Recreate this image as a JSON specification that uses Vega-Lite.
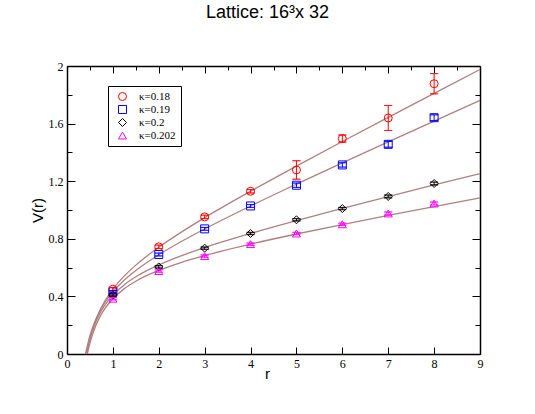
{
  "$schema": "https://vega.github.io/schema/vega-lite/v6.json",
  "width": 413,
  "height": 288,
  "autosize": {"type": "none"},
  "padding": {"left": 67, "top": 66, "right": 55, "bottom": 60},
  "background": "white",
  "title": {"text": "Lattice: 16³x 32", "font": "Liberation Sans", "fontSize": 18, "fontWeight": "normal", "color": "black", "anchor": "middle", "baseline": "alphabetic", "offset": 24, "dx": -6},
  "config": {
    "view": {"stroke": null},
    "axis": {"domainColor": "black", "domainWidth": 1.5, "tickColor": "black", "tickWidth": 1, "labelFont": "Liberation Serif", "labelFontSize": 12, "labelColor": "black", "titleFont": "Liberation Sans", "titleFontSize": 15, "titleFontWeight": "normal", "titleColor": "black", "grid": false, "labelFlush": false, "labelOverlap": false}
  },
  "datasets": {
    "pts": [
      {"k": "κ=0.18", "r": 1, "V": 0.450, "lo": 0.438, "hi": 0.462},
      {"k": "κ=0.18", "r": 2, "V": 0.744, "lo": 0.732, "hi": 0.756},
      {"k": "κ=0.18", "r": 3, "V": 0.952, "lo": 0.940, "hi": 0.964},
      {"k": "κ=0.18", "r": 4, "V": 1.130, "lo": 1.118, "hi": 1.142},
      {"k": "κ=0.18", "r": 5, "V": 1.278, "lo": 1.214, "hi": 1.342},
      {"k": "κ=0.18", "r": 6, "V": 1.496, "lo": 1.471, "hi": 1.521},
      {"k": "κ=0.18", "r": 7, "V": 1.639, "lo": 1.552, "hi": 1.726},
      {"k": "κ=0.18", "r": 8, "V": 1.877, "lo": 1.807, "hi": 1.947},
      {"k": "κ=0.19", "r": 1, "V": 0.432, "lo": 0.424, "hi": 0.440},
      {"k": "κ=0.19", "r": 2, "V": 0.691, "lo": 0.681, "hi": 0.701},
      {"k": "κ=0.19", "r": 3, "V": 0.869, "lo": 0.859, "hi": 0.879},
      {"k": "κ=0.19", "r": 4, "V": 1.028, "lo": 1.018, "hi": 1.038},
      {"k": "κ=0.19", "r": 5, "V": 1.172, "lo": 1.157, "hi": 1.187},
      {"k": "κ=0.19", "r": 6, "V": 1.313, "lo": 1.298, "hi": 1.328},
      {"k": "κ=0.19", "r": 7, "V": 1.456, "lo": 1.436, "hi": 1.476},
      {"k": "κ=0.19", "r": 8, "V": 1.641, "lo": 1.621, "hi": 1.661},
      {"k": "κ=0.2", "r": 1, "V": 0.409, "lo": 0.401, "hi": 0.417},
      {"k": "κ=0.2", "r": 2, "V": 0.605, "lo": 0.597, "hi": 0.613},
      {"k": "κ=0.2", "r": 3, "V": 0.735, "lo": 0.727, "hi": 0.743},
      {"k": "κ=0.2", "r": 4, "V": 0.837, "lo": 0.829, "hi": 0.845},
      {"k": "κ=0.2", "r": 5, "V": 0.932, "lo": 0.924, "hi": 0.940},
      {"k": "κ=0.2", "r": 6, "V": 1.010, "lo": 1.002, "hi": 1.018},
      {"k": "κ=0.2", "r": 7, "V": 1.094, "lo": 1.084, "hi": 1.104},
      {"k": "κ=0.2", "r": 8, "V": 1.184, "lo": 1.174, "hi": 1.194},
      {"k": "κ=0.202", "r": 1, "V": 0.384, "lo": 0.376, "hi": 0.392},
      {"k": "κ=0.202", "r": 2, "V": 0.576, "lo": 0.568, "hi": 0.584},
      {"k": "κ=0.202", "r": 3, "V": 0.680, "lo": 0.672, "hi": 0.688},
      {"k": "κ=0.202", "r": 4, "V": 0.763, "lo": 0.755, "hi": 0.771},
      {"k": "κ=0.202", "r": 5, "V": 0.837, "lo": 0.829, "hi": 0.845},
      {"k": "κ=0.202", "r": 6, "V": 0.901, "lo": 0.893, "hi": 0.909},
      {"k": "κ=0.202", "r": 7, "V": 0.976, "lo": 0.966, "hi": 0.986},
      {"k": "κ=0.202", "r": 8, "V": 1.045, "lo": 1.035, "hi": 1.055}
    ],
    "fit": [
      {"k": "a", "r": 0.4207, "V": 0}, {"k": "a", "r": 0.5, "V": 0.1104}, {"k": "a", "r": 0.6, "V": 0.2128}, {"k": "a", "r": 0.7, "V": 0.2906}, {"k": "a", "r": 0.8, "V": 0.3529}, {"k": "a", "r": 0.9, "V": 0.4051}, {"k": "a", "r": 1, "V": 0.45}, {"k": "a", "r": 1.25, "V": 0.5422}, {"k": "a", "r": 1.5, "V": 0.6172}, {"k": "a", "r": 2, "V": 0.7413}, {"k": "a", "r": 2.5, "V": 0.8482}, {"k": "a", "r": 3, "V": 0.9464}, {"k": "a", "r": 4, "V": 1.1299}, {"k": "a", "r": 5, "V": 1.3049}, {"k": "a", "r": 6, "V": 1.4755}, {"k": "a", "r": 7, "V": 1.6437}, {"k": "a", "r": 8, "V": 1.8103}, {"k": "a", "r": 9, "V": 1.9759},
      {"k": "b", "r": 0.402, "V": 0}, {"k": "b", "r": 0.5, "V": 0.1277}, {"k": "b", "r": 0.6, "V": 0.2198}, {"k": "b", "r": 0.7, "V": 0.2896}, {"k": "b", "r": 0.8, "V": 0.3454}, {"k": "b", "r": 0.9, "V": 0.392}, {"k": "b", "r": 1, "V": 0.432}, {"k": "b", "r": 1.25, "V": 0.5139}, {"k": "b", "r": 1.5, "V": 0.5802}, {"k": "b", "r": 2, "V": 0.6892}, {"k": "b", "r": 2.5, "V": 0.7828}, {"k": "b", "r": 3, "V": 0.8684}, {"k": "b", "r": 4, "V": 1.028}, {"k": "b", "r": 5, "V": 1.1798}, {"k": "b", "r": 6, "V": 1.3278}, {"k": "b", "r": 7, "V": 1.4734}, {"k": "b", "r": 8, "V": 1.6177}, {"k": "b", "r": 9, "V": 1.7611},
      {"k": "c", "r": 0.4228, "V": 0}, {"k": "c", "r": 0.5, "V": 0.1035}, {"k": "c", "r": 0.6, "V": 0.2003}, {"k": "c", "r": 0.7, "V": 0.2716}, {"k": "c", "r": 0.8, "V": 0.3269}, {"k": "c", "r": 0.9, "V": 0.3717}, {"k": "c", "r": 1, "V": 0.409}, {"k": "c", "r": 1.25, "V": 0.4815}, {"k": "c", "r": 1.5, "V": 0.5361}, {"k": "c", "r": 2, "V": 0.6186}, {"k": "c", "r": 2.5, "V": 0.6833}, {"k": "c", "r": 3, "V": 0.739}, {"k": "c", "r": 4, "V": 0.8371}, {"k": "c", "r": 5, "V": 0.9263}, {"k": "c", "r": 6, "V": 1.011}, {"k": "c", "r": 7, "V": 1.0932}, {"k": "c", "r": 8, "V": 1.1737}, {"k": "c", "r": 9, "V": 1.2533},
      {"k": "d", "r": 0.4424, "V": 0}, {"k": "d", "r": 0.5, "V": 0.0762}, {"k": "d", "r": 0.6, "V": 0.175}, {"k": "d", "r": 0.7, "V": 0.2473}, {"k": "d", "r": 0.8, "V": 0.3028}, {"k": "d", "r": 0.9, "V": 0.3473}, {"k": "d", "r": 1, "V": 0.384}, {"k": "d", "r": 1.25, "V": 0.454}, {"k": "d", "r": 1.5, "V": 0.5054}, {"k": "d", "r": 2, "V": 0.5802}, {"k": "d", "r": 2.5, "V": 0.6364}, {"k": "d", "r": 3, "V": 0.6832}, {"k": "d", "r": 4, "V": 0.7629}, {"k": "d", "r": 5, "V": 0.8333}, {"k": "d", "r": 6, "V": 0.899}, {"k": "d", "r": 7, "V": 0.9621}, {"k": "d", "r": 8, "V": 1.0234}, {"k": "d", "r": 9, "V": 1.0837}
    ]
  },
  "resolve": {"axis": {"x": "independent", "y": "independent"}},
  "layer": [
    {
      "data": {"name": "fit"},
      "mark": {"type": "line", "color": "#B08080", "strokeWidth": 1.3, "interpolate": "monotone"},
      "encoding": {
        "x": {"field": "r", "type": "quantitative", "scale": {"domain": [0, 9], "nice": false, "zero": false},
          "axis": {"orient": "bottom", "title": "r", "values": [0, 0.5, 1, 1.5, 2, 2.5, 3, 3.5, 4, 4.5, 5, 5.5, 6, 6.5, 7, 7.5, 8, 8.5, 9], "format": "d", "labelExpr": "datum.value % 1 === 0 ? datum.label : ''", "tickSize": {"condition": {"test": "datum.value % 1 === 0", "value": -7}, "value": -4}, "labelPadding": 11, "titleX": 200, "titleY": 24, "titleBaseline": "alphabetic", "titleAlign": "center"}},
        "y": {"field": "V", "type": "quantitative", "scale": {"domain": [0, 2], "nice": false},
          "axis": {"orient": "left", "title": "V(r)", "values": [0, 0.2, 0.4, 0.6, 0.8, 1, 1.2, 1.4, 1.6, 1.8, 2], "format": "~g", "labelExpr": "indexof([0, 0.4, 0.8, 1.2, 1.6, 2], datum.value) >= 0 ? datum.label : ''", "tickSize": {"condition": {"test": "indexof([0, 0.4, 0.8, 1.2, 1.6, 2], datum.value) >= 0", "value": -8}, "value": -5}, "labelPadding": 12, "titleX": -30, "titleY": 144, "titleAlign": "center", "titleBaseline": "middle"}},
        "detail": {"field": "k", "type": "nominal"}
      }
    },
    {
      "data": {"name": "pts"},
      "mark": {"type": "point", "filled": false, "size": 64, "strokeWidth": 1, "opacity": 1},
      "encoding": {
        "x": {"field": "r", "type": "quantitative", "scale": {"domain": [0, 9], "nice": false, "zero": false},
          "axis": {"orient": "top", "title": null, "labels": false, "values": [0, 0.5, 1, 1.5, 2, 2.5, 3, 3.5, 4, 4.5, 5, 5.5, 6, 6.5, 7, 7.5, 8, 8.5, 9], "tickSize": {"condition": {"test": "datum.value % 1 === 0", "value": -7}, "value": -4}}},
        "y": {"field": "V", "type": "quantitative", "scale": {"domain": [0, 2], "nice": false},
          "axis": {"orient": "right", "title": null, "labels": false, "values": [0, 0.2, 0.4, 0.6, 0.8, 1, 1.2, 1.4, 1.6, 1.8, 2], "tickSize": {"condition": {"test": "indexof([0, 0.4, 0.8, 1.2, 1.6, 2], datum.value) >= 0", "value": -8}, "value": -5}}},
        "color": {"field": "k", "type": "nominal", "scale": {"domain": ["κ=0.18", "κ=0.19", "κ=0.2", "κ=0.202"], "range": ["#FF0000", "#0000FF", "#000000", "#FF00FF"]},
          "legend": {"title": null, "orient": "none", "legendX": 41, "legendY": 20, "strokeColor": "black", "fillColor": "white", "padding": 5, "labelFont": "Liberation Serif", "labelFontSize": 11, "labelColor": "black", "symbolSize": 64, "symbolStrokeWidth": 1, "labelOffset": 11, "rowPadding": 0, "symbolOffset": 4}},
        "shape": {"field": "k", "type": "nominal", "scale": {"domain": ["κ=0.18", "κ=0.19", "κ=0.2", "κ=0.202"], "range": ["circle", "square", "diamond", "triangle-up"]},
          "legend": {"title": null, "orient": "none", "legendX": 41, "legendY": 20}}
      }
    },
    {
      "data": {"name": "pts"},
      "mark": {"type": "rule", "strokeWidth": 1, "filled": false},
      "encoding": {
        "x": {"field": "r", "type": "quantitative", "axis": null},
        "y": {"field": "lo", "type": "quantitative", "axis": null},
        "y2": {"field": "hi"},
        "color": {"field": "k", "type": "nominal"}
      }
    },
    {
      "data": {"name": "pts"},
      "mark": {"type": "tick", "orient": "horizontal", "size": 8, "thickness": 0.1, "filled": false, "strokeWidth": 1},
      "encoding": {
        "x": {"field": "r", "type": "quantitative", "axis": null},
        "y": {"field": "lo", "type": "quantitative", "axis": null},
        "color": {"field": "k", "type": "nominal"}
      }
    },
    {
      "data": {"name": "pts"},
      "mark": {"type": "tick", "orient": "horizontal", "size": 8, "thickness": 0.1, "filled": false, "strokeWidth": 1},
      "encoding": {
        "x": {"field": "r", "type": "quantitative", "axis": null},
        "y": {"field": "hi", "type": "quantitative", "axis": null},
        "color": {"field": "k", "type": "nominal"}
      }
    }
  ]
}
